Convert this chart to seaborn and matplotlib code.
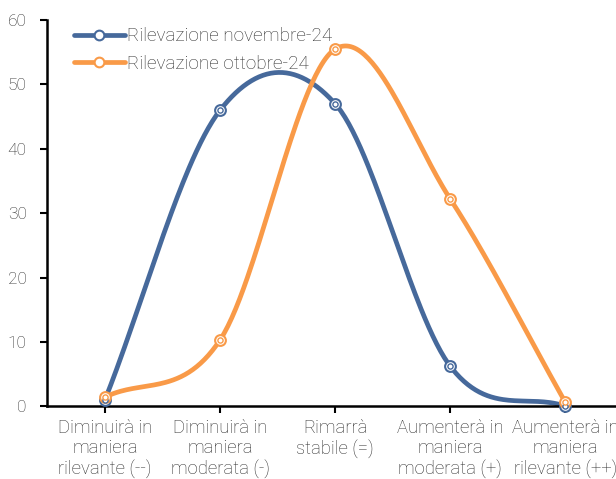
import numpy as np
import pandas as pd
import matplotlib
matplotlib.use("Agg")
import matplotlib.pyplot as plt
import seaborn as sns
from matplotlib.lines import Line2D

categories = [
    "Diminuirà in\nmaniera\nrilevante (--)",
    "Diminuirà in\nmaniera\nmoderata (-)",
    "Rimarrà\nstabile (=)",
    "Aumenterà in\nmaniera\nmoderata (+)",
    "Aumenterà in\nmaniera\nrilevante (++)",
]
novembre = [1.0, 46.0, 47.0, 6.2, 0.0]
ottobre = [1.4, 10.3, 55.5, 32.2, 0.6]
series_names = ["Rilevazione novembre-24", "Rilevazione ottobre-24"]
colors = ["#46699B", "#F99A48"]


def smooth(y, n=60):
    # Catmull-Rom style smoothing, similar to Excel's smoothed lines
    y = np.asarray(y, dtype=float)
    x = np.arange(len(y), dtype=float)
    xs, ys = [], []
    for i in range(len(y) - 1):
        p0 = y[i - 1] if i > 0 else y[i]
        p3 = y[i + 2] if i + 2 < len(y) else y[i + 1]
        m1 = (y[i + 1] - p0) / (2 if i > 0 else 1)
        m2 = (p3 - y[i]) / (2 if i + 2 < len(y) else 1)
        t = np.linspace(0, 1, n)
        h00 = 2 * t**3 - 3 * t**2 + 1
        h10 = t**3 - 2 * t**2 + t
        h01 = -2 * t**3 + 3 * t**2
        h11 = t**3 - t**2
        xs.append(x[i] + t)
        ys.append(h00 * y[i] + h10 * m1 + h01 * y[i + 1] + h11 * m2)
    return np.concatenate(xs), np.concatenate(ys)


sns.set_theme(style="white")
plt.rcParams["font.family"] = ["Roboto", "DejaVu Sans"]
plt.rcParams["font.weight"] = "light"
text_color = "#2E2E2E"

fig = plt.figure(figsize=(6.16, 4.79), dpi=100)
ax = fig.add_axes([0.077, 0.152, 0.923, 0.806])

handles = []
for vals, name, col in zip([novembre, ottobre], series_names, colors):
    sx, sy = smooth(vals)
    df = pd.DataFrame({"x": sx, "y": sy})
    sns.lineplot(data=df, x="x", y="y", ax=ax, color=col, linewidth=3.4,
                 sort=False, estimator=None)
    pts = pd.DataFrame({"x": np.arange(len(vals)), "y": vals})
    sns.scatterplot(data=pts, x="x", y="y", ax=ax, s=60, facecolor="white",
                    edgecolor=col, linewidth=1.5, zorder=5, clip_on=False)
    sns.scatterplot(data=pts, x="x", y="y", ax=ax, s=14, facecolor="white",
                    edgecolor=col, linewidth=1.0, zorder=6, clip_on=False)
    handles.append(Line2D([0], [0], color=col, linewidth=3.4, marker="o",
                          markersize=7, markerfacecolor="white",
                          markeredgecolor=col, markeredgewidth=1.5))

ax.set_xlim(-0.5, 4.44)
ax.set_ylim(0, 60)
ax.set_yticks(range(0, 61, 10))
ax.set_xticks(range(len(categories)))
ax.set_xticklabels(categories, fontsize=13.3, color=text_color, linespacing=1.15,
                   fontweight="light")
ax.set_yticklabels([str(v) for v in range(0, 61, 10)], fontsize=12.5,
                   color=text_color, fontweight="light")
ax.set_xlabel("")
ax.set_ylabel("")
ax.tick_params(axis="both", direction="out", length=5, width=1.5, color="black",
               left=True, bottom=True, pad=4)
ax.tick_params(axis="y", pad=10)

for side in ["top", "right"]:
    ax.spines[side].set_visible(False)
for side in ["left", "bottom"]:
    ax.spines[side].set_color("black")
    ax.spines[side].set_linewidth(1.8)

leg = ax.legend(handles, series_names, loc="upper left", bbox_to_anchor=(0.016, 1.025),
                frameon=False, handlelength=2.7, handletextpad=0.15,
                labelspacing=0.5, labelcolor=text_color,
                prop={"weight": "light", "size": 13.6})

fig.savefig("out.png", dpi=100)
